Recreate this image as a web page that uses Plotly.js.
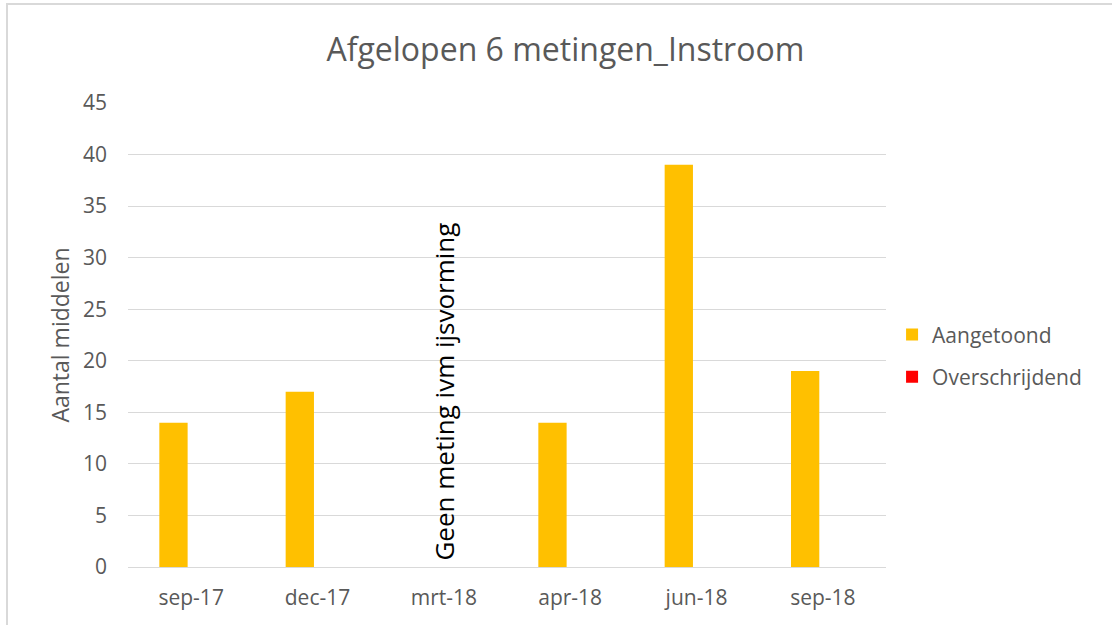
<!DOCTYPE html>
<html>
<head>
<meta charset="utf-8">
<script src="https://cdn.plot.ly/plotly-3.0.1.min.js"></script>
<style>html,body{margin:0;padding:0;background:#fff;}#chart{width:1112px;height:625px;}</style>
</head>
<body>
<div id="chart"></div>
<script>
const categories = ["sep-17", "dec-17", "mrt-18", "apr-18", "jun-18", "sep-18"];
const aangetoond = [14, 17, null, 14, 39, 19];
const overschrijdend = [0, 0, null, 0, 0, 0];
const yTicks = [0, 5, 10, 15, 20, 25, 30, 35, 40, 45];

const FONT = "'Open Sans', sans-serif";
const GRAY = "#595959";

const traces = [
  {type: "bar", name: "Aangetoond", x: categories, y: aangetoond,
   marker: {color: "#FFC000"}, legendgroup: "a", hoverinfo: "x+y"},
  {type: "bar", name: "Overschrijdend", x: categories, y: overschrijdend,
   marker: {color: "#FF0000"}, legendgroup: "b", hoverinfo: "x+y"}
];

const layout = {
  width: 1112, height: 625,
  margin: {l: 128, r: 226, t: 103, b: 58},
  paper_bgcolor: "#ffffff", plot_bgcolor: "#ffffff",
  font: {family: FONT, color: GRAY, size: 20},
  title: {text: "Afgelopen 6 metingen_Instroom", font: {family: FONT, size: 32, color: GRAY},
          x: 0.577, xref: "paper", xanchor: "center", y: 0.92, yanchor: "middle"},
  barmode: "group", bargap: 0.44, bargroupgap: 0.2,
  xaxis: {type: "category", categoryorder: "array", categoryarray: categories,
          showgrid: false, zeroline: false, showline: false, ticks: "",
          tickfont: {family: FONT, size: 21, color: GRAY}, ticklabelstandoff: 16},
  yaxis: {range: [0, 45], tickvals: yTicks, showgrid: true, gridcolor: "#d9d9d9", gridwidth: 1,
          zeroline: true, zerolinecolor: "#d9d9d9", zerolinewidth: 1, showline: false, ticks: "",
          tickfont: {family: FONT, size: 21, color: GRAY}, ticklabelstandoff: 20,
          title: {text: "Aantal middelen", font: {family: FONT, size: 23, color: GRAY}, standoff: 6}},
  legend: {x: 1.008, xanchor: "left", y: 0.455, yanchor: "middle", traceorder: "grouped",
           tracegroupgap: 12, font: {family: FONT, size: 21, color: GRAY}, itemwidth: 30},
  annotations: [
    {x: "mrt-18", y: 17, xref: "x", yref: "y", text: "Geen meting ivm ijsvorming",
     textangle: -90, showarrow: false, font: {family: FONT, size: 26, color: "#000000"}}
  ],
  shapes: [
    {type: "rect", xref: "paper", yref: "paper", x0: -0.1596, x1: 1.31, y0: -0.13, y1: 1.2134,
     line: {color: "#d9d9d9", width: 2}, fillcolor: "rgba(0,0,0,0)", layer: "below"}
  ],
  showlegend: true
};

Plotly.newPlot("chart", traces, layout, {displayModeBar: false, staticPlot: true});
</script>
</body>
</html>
